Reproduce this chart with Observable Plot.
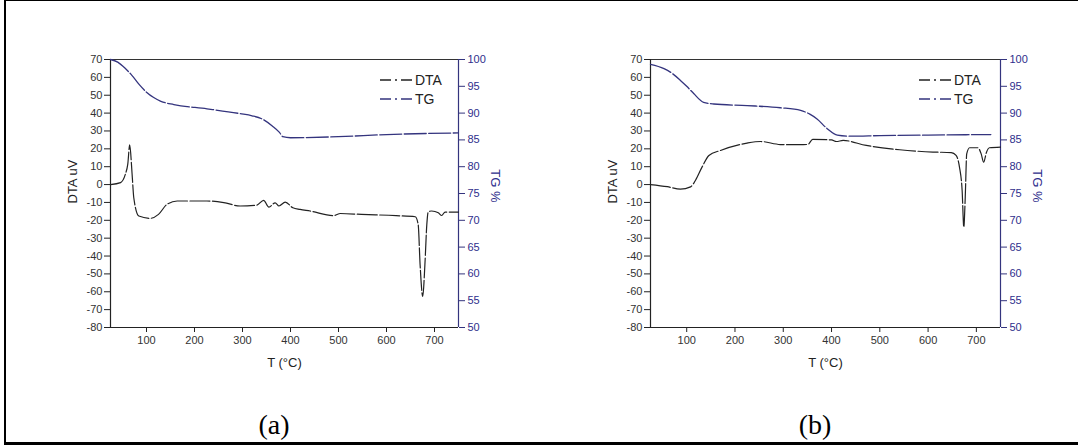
<!DOCTYPE html>
<html><head><meta charset="utf-8">
<script src="https://cdn.jsdelivr.net/npm/d3@7"></script>
<script src="https://cdn.jsdelivr.net/npm/@observablehq/plot@0.6"></script>
<style>
body{margin:0;background:#fff;}
#page{position:relative;width:1078px;height:448px;overflow:hidden;background:#fff;font-family:"Liberation Sans",Arial,sans-serif;}
#border{position:absolute;left:4px;top:0;width:1090px;height:441px;border-left:2px solid #000;border-top:1px solid #000;border-bottom:3px solid #000;}
.panel{position:absolute;top:0;width:539px;height:448px;}
.panel svg.plotsvg{position:absolute;left:0;top:0;}
.caption{position:absolute;top:411px;line-height:28px;font-family:"Liberation Serif","Times New Roman",serif;font-size:28px;transform:translateX(-50%);color:#000;}
.legend{position:absolute;left:0;top:0;}
</style></head>
<body>
<div id="page"><div id="border"></div></div>
<script>
// ---- data ----
const xTicks = [100, 200, 300, 400, 500, 600, 700];
const dtaTicks = [-80, -70, -60, -50, -40, -30, -20, -10, 0, 10, 20, 30, 40, 50, 60, 70];
const tgTicks = [50, 55, 60, 65, 70, 75, 80, 85, 90, 95, 100];
const xDomain = [25, 750];
const dtaDomain = [-80, 70];
const tgDomain = [50, 100];
const seriesNames = ["DTA", "TG"];
const captions = ["(a)", "(b)"];
const xTitle = "T (\u00B0C)";
const yTitle = "DTA uV";
const y2Title = "TG %";

const tempA_DTA = [25, 46, 56, 61, 65, 70, 73.5, 84, 108, 125, 143, 164, 226, 261, 295, 330, 344, 355, 368, 376, 389, 405, 420, 441, 490, 504, 548, 620, 660, 666, 670, 675.5, 680, 684, 687, 694, 708, 715, 722, 750];
const dtaA = [0, 1.1, 5.8, 11.4, 22.2, 5.8, -7.4, -17.6, -18.9, -16.7, -11, -9.2, -9.2, -10.1, -12, -11.5, -8.8, -12.6, -10.2, -12, -9.8, -13, -13.9, -14.8, -17.4, -16.2, -16.7, -17.4, -18, -22.3, -44.8, -62.6, -44.8, -22.3, -15.2, -14.8, -15.8, -17.3, -15.4, -15.4];
const tempA_TG = [25, 40, 55, 70, 85, 100, 115, 130, 157, 226, 295, 320, 341, 362, 377, 384, 400, 500, 600, 750];
const tgA = [100, 99.5, 98.4, 97.0, 95.3, 93.9, 92.9, 92.2, 91.6, 90.8, 89.9, 89.5, 88.9, 87.6, 86.4, 85.6, 85.4, 85.6, 86.0, 86.3];

const tempB_DTA = [25, 60, 87, 108, 118, 132, 146, 170, 225, 253, 294, 335, 351, 361, 400, 410, 424, 472, 541, 610, 648, 658, 665, 670.5, 674, 677, 680, 686, 703, 710, 715, 721, 727, 750];
const dtaB = [0, -1.2, -2.6, -1.3, 2.3, 9.9, 16.3, 19.1, 23.2, 24.1, 22.4, 22.3, 22.5, 25.3, 25.0, 24.1, 24.7, 21.9, 19.5, 18.2, 17.9, 16.3, 9.8, -3.2, -23.8, -7, 17.2, 20.6, 20.6, 17.2, 12.5, 18.1, 20.6, 21];
const tempB_TG = [25, 53, 70, 87, 100, 115, 135, 156, 225, 294, 336, 355, 370, 391, 412, 439, 500, 600, 730];
const tgB = [99.1, 98.3, 97.4, 96.1, 95.0, 93.6, 92.0, 91.7, 91.4, 91.0, 90.5, 89.8, 88.9, 87.1, 85.9, 85.7, 85.8, 85.9, 86.0];

// ---- styles ----
const navy = "#34347e";
const navyText = "#2e2e8c";
const dark = "#222";
const tgToDta = t => dtaDomain[0] + (t - tgDomain[0]) * (dtaDomain[1] - dtaDomain[0]) / (tgDomain[1] - tgDomain[0]);

function panel(left, mLeft, mRight, temps1, vals1, temps2, vals2, caption) {
  const dta = temps1.map((T, i) => ({T, v: vals1[i]}));
  const tg = temps2.map((T, i) => ({T, tg: vals2[i]}));
  const chart = Plot.plot({
    width: 539, height: 380,
    marginLeft: mLeft, marginRight: mRight, marginTop: 59, marginBottom: 53,
    style: {fontFamily: '"Liberation Sans", Arial, sans-serif', fontSize: "11px", color: "#333", background: "transparent"},
    x: {domain: xDomain},
    y: {domain: dtaDomain},
    marks: [
      Plot.axisX({ticks: xTicks, tickSize: 5, tickPadding: 4, label: null, fill: "#333", stroke: "#222"}),
      Plot.axisY({ticks: dtaTicks, tickSize: 6, tickPadding: 2, label: null, tickFormat: d => String(d), fill: "#333", stroke: "#222"}),
      Plot.axisY({anchor: "right", ticks: tgTicks.map(tgToDta), tickSize: 6, tickPadding: 3, label: null,
        tickFormat: d => String(Math.round(tgDomain[0] + (d - dtaDomain[0]) * (tgDomain[1] - tgDomain[0]) / (dtaDomain[1] - dtaDomain[0]))),
        fill: navyText, stroke: navy}),
      Plot.ruleY([dtaDomain[1]], {stroke: "#333", strokeWidth: 1.2}),
      Plot.ruleY([dtaDomain[0]], {stroke: "#222", strokeWidth: 1.2}),
      Plot.ruleX([xDomain[0]], {stroke: "#222", strokeWidth: 1.2}),
      Plot.ruleX([xDomain[1]], {stroke: navy, strokeWidth: 1.2}),
      Plot.line(tg, {x: "T", y: d => tgToDta(d.tg), stroke: navy, strokeWidth: 1.3, curve: "monotone-x", strokeDasharray: "22,2.5"}),
      Plot.line(dta, {x: "T", y: "v", stroke: dark, strokeWidth: 1.2, curve: "monotone-x", strokeDasharray: "20,2.5"}),
      Plot.text([yTitle], {text: d => d, frameAnchor: "left", rotate: -90, dx: -38, dy: 10, fontSize: 13, fill: "#222"}),
      Plot.text([y2Title], {text: d => d, frameAnchor: "right", rotate: 90, dx: 37, dy: 9, fontSize: 13, fill: navyText}),
      Plot.text([xTitle], {text: d => d, frameAnchor: "bottom", dy: 39, fontSize: 13, fill: "#222"})
    ]
  });
  chart.classList.add("plotsvg");
  const div = document.createElement("div");
  div.className = "panel";
  div.style.left = left + "px";
  div.appendChild(chart);

  // legend
  const leg = d3.create("svg").attr("class", "legend").attr("width", 539).attr("height", 120);
  const colors = [dark, navy];
  seriesNames.forEach((name, i) => {
    const y = 80 + i * 19;
    leg.append("line").attr("x1", 380).attr("x2", 412).attr("y1", y).attr("y2", y)
      .attr("stroke", colors[i]).attr("stroke-width", 1.5).attr("stroke-dasharray", "11,4,2,4");
    leg.append("text").attr("x", 415).attr("y", y).attr("dy", "0.36em")
      .attr("font-size", 14).attr("font-family", '"Liberation Sans", Arial, sans-serif')
      .attr("fill", "#222").text(name);
  });
  div.appendChild(leg.node());

  const cap = document.createElement("div");
  cap.className = "caption";
  cap.style.left = (mLeft + (539 - mLeft - mRight) / 2 - 10) + "px";
  cap.textContent = caption;
  div.appendChild(cap);
  document.getElementById("page").appendChild(div);
}

panel(0, 110, 81, tempA_DTA, dtaA, tempA_TG, tgA, captions[0]);
panel(539, 111, 78, tempB_DTA, dtaB, tempB_TG, tgB, captions[1]);
</script>
</body></html>
